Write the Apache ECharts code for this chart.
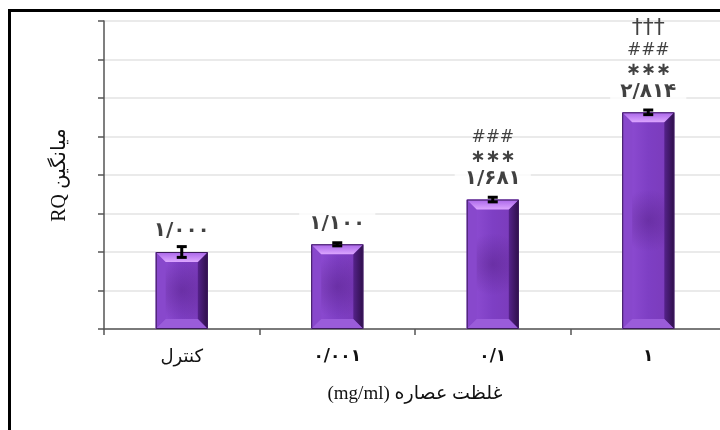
<!DOCTYPE html>
<html>
<head>
<meta charset="utf-8">
<script src="https://cdn.jsdelivr.net/npm/echarts@6/dist/echarts.min.js"></script>
<style>html,body{margin:0;padding:0;background:#fff}#c{width:720px;height:430px}</style>
</head>
<body>
<div id="c"></div>
<script>
// ---- data ----
const categories = ['کنترل', '۰/۰۰۱', '۰/۱', '۱'];
const rqMeans = [1.000, 1.100, 1.681, 2.814];
const rqErrors = [0.07, 0.02, 0.03, 0.03];
const sigStars = ['', '', '***', '***'];
const sigHash = ['', '', '###', '###'];
const sigDagger = ['', '', '', '†††'];
const yTicks = [0, 0.5, 1, 1.5, 2, 2.5, 3, 3.5, 4];
const yAxisTitle = 'RQ میانگین';
const xAxisTitle = '(mg/ml) غلظت عصاره';

function toPersian(v) {
  const d = '۰۱۲۳۴۵۶۷۸۹';
  return v.toFixed(3).replace('.', '/').replace(/[0-9]/g, c => d[+c]);
}

const chart = echarts.init(document.getElementById('c'), null, {renderer: 'canvas'});

function renderBar(params, api) {
  const i = api.value(0), v = api.value(1);
  const top = api.coord([i, v]);
  const base = api.coord([i, 0]);
  const w = api.size([1, 0])[0] * 0.335;
  const x0 = top[0] - w / 2, x1 = top[0] + w / 2, y0 = top[1], y1 = base[1];
  const b = Math.min(10, (y1 - y0) / 3);
  return {
    type: 'group',
    children: [
      {type: 'rect', shape: {x: x0, y: y0, width: w, height: y1 - y0},
        style: {fill: new echarts.graphic.LinearGradient(0, 0, 1, 0, [
          {offset: 0, color: '#9250d6'}, {offset: 0.5, color: '#7e3fc4'}, {offset: 1, color: '#7a3ab8'}])}},
      {type: 'rect', shape: {x: x0, y: y0, width: w, height: y1 - y0},
        style: {fill: new echarts.graphic.RadialGradient(0.5, 0.5, 0.6, [
          {offset: 0, color: 'rgba(70,20,110,0.35)'}, {offset: 1, color: 'rgba(70,20,110,0)'}])}},
      {type: 'polygon', shape: {points: [[x0, y0], [x0 + b, y0 + b], [x0 + b, y1 - b], [x0, y1]]},
        style: {fill: '#8848cc'}},
      {type: 'polygon', shape: {points: [[x1, y0], [x1 - b, y0 + b], [x1 - b, y1 - b], [x1, y1]]},
        style: {fill: new echarts.graphic.LinearGradient(0, 0, 1, 0, [
          {offset: 0, color: '#55228a'}, {offset: 1, color: '#2e0f4a'}])}},
      {type: 'polygon', shape: {points: [[x0, y1], [x1, y1], [x1 - b, y1 - b], [x0 + b, y1 - b]]},
        style: {fill: '#9a5cda'}},
      {type: 'polygon', shape: {points: [[x0, y0], [x1, y0], [x1 - b, y0 + b], [x0 + b, y0 + b]]},
        style: {fill: new echarts.graphic.LinearGradient(0, 0, 0, 1, [
          {offset: 0, color: '#a864e8'}, {offset: 1, color: '#dca6ff'}])}},
      {type: 'rect', shape: {x: x0 + 0.5, y: y0 + 0.5, width: w - 1, height: y1 - y0 - 1},
        style: {fill: 'none', stroke: '#3c1a5c', lineWidth: 1}}
    ]
  };
}

function renderErr(params, api) {
  const i = api.value(0), v = api.value(1), e = api.value(2);
  const hi = api.coord([i, v + e]);
  const lo = api.coord([i, v - e]);
  const cx = hi[0];
  const st = {stroke: '#000', lineWidth: 3};
  return {
    type: 'group',
    children: [
      {type: 'line', shape: {x1: cx, y1: hi[1], x2: cx, y2: lo[1]}, style: st},
      {type: 'line', shape: {x1: cx - 5, y1: hi[1], x2: cx + 5, y2: hi[1]}, style: st},
      {type: 'line', shape: {x1: cx - 5, y1: lo[1], x2: cx + 5, y2: lo[1]}, style: st}
    ]
  };
}

const barData = rqMeans.map((v, i) => [i, v]);
const errData = rqMeans.map((v, i) => [i, v, rqErrors[i]]);
const labelData = rqMeans.map((v, i) => [i, v]);

const option = {
  animation: false,
  backgroundColor: '#fff',
  graphic: [{
    type: 'rect', z: 100, silent: true,
    shape: {x: 9.5, y: 10.5, width: 900, height: 900},
    style: {fill: 'none', stroke: '#000', lineWidth: 3}
  }],
  grid: {left: 104, top: 21, width: 622, height: 308, outerBoundsMode: 'none', containLabel: false},
  xAxis: {
    type: 'category',
    data: categories,
    boundaryGap: true,
    axisLine: {lineStyle: {color: '#555', width: 1.5}},
    axisTick: {show: true, length: 6, inside: false, lineStyle: {color: '#555', width: 1.5}},
    axisLabel: {
      margin: 19, fontSize: 17, color: '#111', fontFamily: 'Liberation Serif, DejaVu Sans',
      formatter: (v, i) => i === 0 ? '{r|' + v + '}' : '{b|' + v + '}',
      rich: {
        r: {fontSize: 18, fontFamily: 'DejaVu Sans', color: '#111'},
        b: {fontSize: 17, fontFamily: 'DejaVu Sans', fontWeight: 'bold', color: '#111'}
      }
    },
    name: xAxisTitle,
    nameLocation: 'middle',
    nameGap: 56,
    nameTextStyle: {fontSize: 19, color: '#111', fontFamily: 'Liberation Serif, DejaVu Sans'}
  },
  yAxis: {
    type: 'value',
    min: 0, max: 4, interval: 0.5,
    axisLine: {show: true, lineStyle: {color: '#555', width: 1.5}},
    axisTick: {show: true, length: 6, lineStyle: {color: '#555', width: 1.5}},
    axisLabel: {show: false},
    splitLine: {lineStyle: {color: '#e3e3e3', width: 1.5}},
    name: yAxisTitle,
    nameLocation: 'middle',
    nameGap: 34,
    nameRotate: 90,
    nameTextStyle: {fontSize: 20, color: '#111', fontFamily: 'Liberation Serif, DejaVu Sans'}
  },
  series: [
    {type: 'custom', renderItem: renderBar, data: barData, encode: {x: 0, y: 1}, z: 2},
    {type: 'custom', renderItem: renderErr, data: errData, encode: {x: 0, y: 1}, z: 3},
    {
      type: 'scatter', data: labelData, symbolSize: 0, z: 4, silent: true,
      label: {
        show: true, position: 'top', distance: 10,
        formatter: p => {
          const i = p.dataIndex;
          const lines = [];
          if (sigDagger[i]) lines.push('{d|' + sigDagger[i] + '}');
          if (sigHash[i]) lines.push('{h|' + sigHash[i] + '}');
          if (sigStars[i]) lines.push('{s|' + sigStars[i].replace(/\*/g, '∗') + '}');
          lines.push('{v|' + toPersian(rqMeans[i]) + '}');
          return lines.join('\n');
        },
        rich: {
          d: {fontSize: 22, fontFamily: 'DejaVu Sans', color: '#111', lineHeight: 26},
          h: {fontSize: 17, fontFamily: 'DejaVu Sans', color: '#111', lineHeight: 19},
          s: {fontSize: 18, fontFamily: 'DejaVu Sans', fontWeight: 'bold', color: '#111', lineHeight: 20},
          v: {fontSize: 20, fontWeight: 'bold', fontFamily: 'DejaVu Sans', color: '#111', lineHeight: 22,
              backgroundColor: '#fff', padding: [2, 10, 2, 10]}
        }
      }
    }
  ]
};
chart.setOption(option);
</script>
</body>
</html>
